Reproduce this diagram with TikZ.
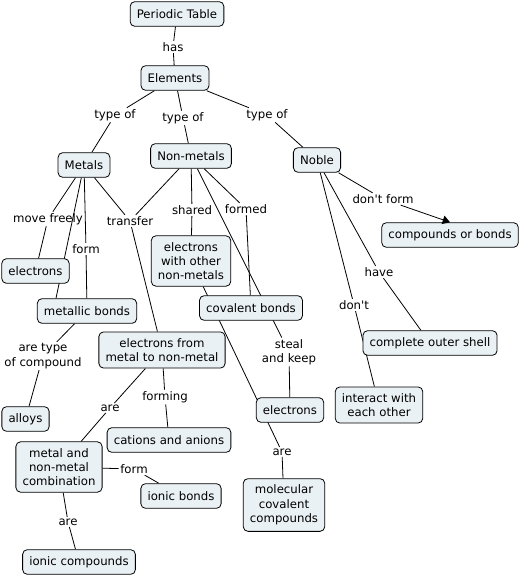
\documentclass[tikz,border=0pt]{standalone}
\usepackage{fontspec}
\setmainfont{DejaVu Sans}
\usetikzlibrary{arrows.meta,backgrounds}
\definecolor{cmap-fill}{HTML}{EAF1F4}

\begin{document}
\begin{tikzpicture}[x=0.75pt,y=-0.75pt,
  concept/.style={draw,line width=0.6pt,rounded corners=3.5pt,fill=cmap-fill,align=center,
    inner xsep=5pt,inner ysep=4.8pt,minimum height=18.5pt,font=\fontsize{8.8}{10.7}\selectfont},
  phrase/.style={inner sep=1pt,align=center,font=\fontsize{8.8}{10.7}\selectfont},
  link/.style={line width=0.6pt}]
  \useasboundingbox (0,0) rectangle (529,577);
  % concepts
  \node[concept] (periodic) at (177,14) {Periodic Table};
  \node[concept] (elements) at (175,78) {Elements};
  \node[concept] (metals) at (84,165) {Metals};
  \node[concept] (nonmetals) at (191,156) {Non-metals};
  \node[concept] (noble) at (317,160) {Noble};
  \node[concept] (compbonds) at (450,235) {compounds or bonds};
  \node[concept] (electronsL) at (35.5,271) {electrons};
  \node[concept] (ewon) at (191,261) {electrons\\with other\\non-metals};
  \node[concept] (metbonds) at (87,311) {metallic bonds};
  \node[concept] (covbonds) at (251,308) {covalent bonds};
  \node[concept] (outershell) at (430,343) {complete outer shell};
  \node[concept] (emn) at (162,350) {electrons from\\metal to non-metal};
  \node[concept] (alloys) at (25.5,419) {alloys};
  \node[concept] (electronsR) at (290,410) {electrons};
  \node[concept] (interact) at (379,405) {interact with\\each other};
  \node[concept] (cations) at (169,440) {cations and anions};
  \node[concept] (combo) at (59,467) {metal and\\non-metal\\combination};
  \node[concept] (ionicbonds) at (181,496) {ionic bonds};
  \node[concept] (molecular) at (284,505) {molecular\\covalent\\compounds};
  \node[concept] (ioniccomp) at (79,562) {ionic compounds};
  % linking phrases
  \node[phrase] (has) at (173,47) {has};
  \node[phrase] (typeL) at (115,115) {type of};
  \node[phrase] (typeM) at (183,118) {type of};
  \node[phrase] (typeR) at (267,115) {type of};
  \node[phrase] (movefreely) at (48,219) {move freely};
  \node[phrase] (formM) at (86,249) {form};
  \node[phrase] (transfer) at (130,221) {transfer};
  \node[phrase] (shared) at (192,210) {shared};
  \node[phrase] (formed) at (246,209) {formed};
  \node[phrase] (dontform) at (383,199) {don\textquotesingle t form};
  \node[phrase] (have) at (379,272) {have};
  \node[phrase] (dont) at (354,305) {don\textquotesingle t};
  \node[phrase] (steal) at (289,352) {steal\\and keep};
  \node[phrase] (aretype) at (43,356) {are type\\of compound};
  \node[phrase] (areL) at (110,408) {are};
  \node[phrase] (forming) at (165,397) {forming};
  \node[phrase] (formB) at (134,469) {form};
  \node[phrase] (areB) at (68,522) {are};
  \node[phrase] (areR) at (282,452) {are};
  % connectors
  \begin{scope}[on background layer]
    \foreach \a/\b in {periodic/has,has/elements,elements/typeL,typeL/metals,
        elements/typeM,typeM/nonmetals,elements/typeR,typeR/noble,
        metals/movefreely,movefreely/electronsL,metals/formM,formM/metbonds,
        metals/transfer,nonmetals/transfer,transfer/emn,nonmetals/shared,shared/ewon,
        nonmetals/formed,formed/covbonds,nonmetals/steal,steal/electronsR,
        ewon/areR,areR/molecular,noble/dontform,noble/have,have/outershell,
        noble/dont,dont/interact,metbonds/aretype,aretype/alloys,emn/areL,areL/combo,
        emn/forming,forming/cations,combo/formB,formB/ionicbonds,combo/areB,areB/ioniccomp}
      \draw[link] (\a) -- (\b);
    \draw[link] (metals) -- ([xshift=-23.25pt]metbonds.north);
  \end{scope}
  \draw[link,-{Triangle[length=5.5pt,width=6.5pt]}] (dontform) -- (compbonds.north);
\end{tikzpicture}
\end{document}
